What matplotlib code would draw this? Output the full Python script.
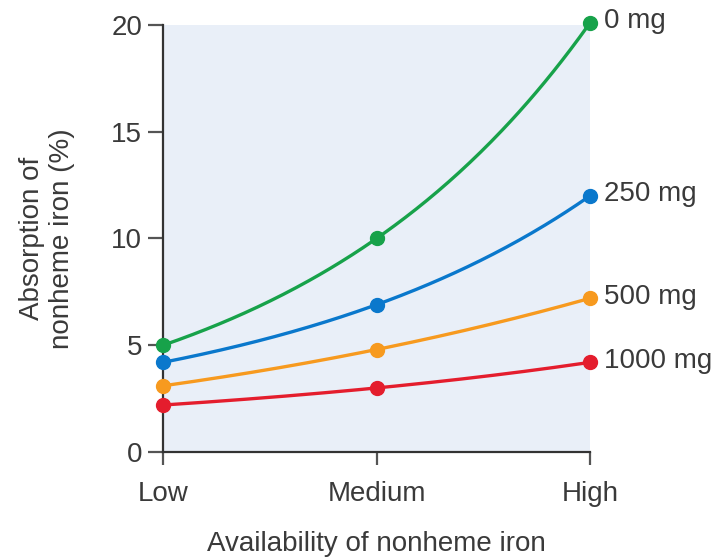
import numpy as np
import matplotlib.pyplot as plt

plt.rcParams['font.family'] = ['Liberation Sans', 'DejaVu Sans']

# -------- data --------
categories = ["Low", "Medium", "High"]
doses = ["0 mg", "250 mg", "500 mg", "1000 mg"]
absorption_0 = [5.0, 10.0, 20.1]
absorption_250 = [4.2, 6.9, 12.0]
absorption_500 = [3.1, 4.8, 7.2]
absorption_1000 = [2.2, 3.0, 4.2]
yticks = [0, 5, 10, 15, 20]

series = [absorption_0, absorption_250, absorption_500, absorption_1000]
colors = ["#17a24a", "#0a78cc", "#f79a1f", "#e41d2d"]
text_color = "#3a3a3a"

fig = plt.figure(figsize=(7.22, 5.59), dpi=100)
ax = fig.add_axes([0.2258, 0.1914, 0.5914, 0.7639])
ax.set_facecolor("#e9eff8")

x = np.arange(len(categories))
xs = np.linspace(x[0], x[-1], 200)
for vals, col, lab in zip(series, colors, doses):
    # smooth curve through the three points (quadratic in log space)
    coef = np.polyfit(x, np.log(vals), 2)
    ax.plot(xs, np.exp(np.polyval(coef, xs)), color=col, lw=2.4, clip_on=False, zorder=3)
    ax.plot(x, vals, "o", color=col, ms=10, clip_on=False, zorder=4)
    ax.annotate(lab, (x[-1], vals[-1]), xytext=(10, 1), textcoords="offset points",
                va="center", ha="left", fontsize=20, color=text_color,
                annotation_clip=False)

ax.set_xlim(x[0], x[-1])
ax.set_ylim(0, 20)
ax.set_xticks(x)
ax.set_xticklabels(categories)
ax.set_yticks(yticks)

for s in ["top", "right"]:
    ax.spines[s].set_visible(False)
for s in ["left", "bottom"]:
    ax.spines[s].set_color("#333333")
    ax.spines[s].set_linewidth(1.6)

ax.tick_params(axis="y", length=11, width=1.6, color="#555555", pad=4,
               labelsize=20, labelcolor=text_color)
ax.tick_params(axis="x", length=9, width=1.6, color="#555555", pad=12,
               labelsize=20, labelcolor=text_color)

ax.set_xlabel("Availability of nonheme iron", fontsize=20, color=text_color, labelpad=17)
ax.set_ylabel("Absorption of\nnonheme iron (%)", fontsize=20, color=text_color, labelpad=26)

fig.savefig("out.png", dpi=100)
